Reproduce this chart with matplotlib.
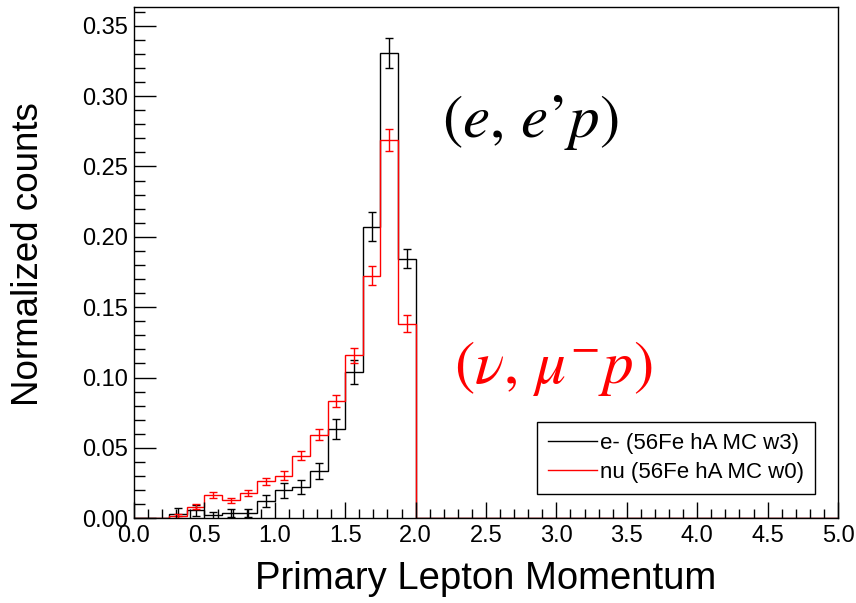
import numpy as np
import matplotlib
matplotlib.use("Agg")
import matplotlib.pyplot as plt
from matplotlib.lines import Line2D
from matplotlib.ticker import MultipleLocator, FormatStrFormatter

plt.rcParams['font.family'] = ['Liberation Sans', 'DejaVu Sans']
plt.rcParams['mathtext.fontset'] = 'stix'

# Histogram binning (GeV), 40 bins on [0, 5]
n_bins = 40
p_min, p_max = 0.0, 5.0
first_bin = 2          # first filled bin starts at 0.25

# e- (56Fe hA MC w3)
e_counts = [0.0033, 0.0057, 0.0022, 0.0038, 0.0038, 0.0123, 0.0199,
            0.0223, 0.0336, 0.0637, 0.1039, 0.2073, 0.3306, 0.1843]
e_errors = [0.0038, 0.0041, 0.0024, 0.0028, 0.0028, 0.0041, 0.0053,
            0.0052, 0.0057, 0.0071, 0.0085, 0.0103, 0.0104, 0.0067]

# nu (56Fe hA MC w0)
nu_counts = [0.0015, 0.0082, 0.0165, 0.0128, 0.0180, 0.0263, 0.0302,
             0.0445, 0.0594, 0.0835, 0.1157, 0.1725, 0.2690, 0.1384]
nu_errors = [0.0012, 0.0019, 0.0022, 0.0018, 0.0021, 0.0024, 0.0031,
             0.0033, 0.0038, 0.0044, 0.0056, 0.0067, 0.0079, 0.0058]

labels = ["e- (56Fe hA MC w3)", "nu (56Fe hA MC w0)"]


def fill(counts):
    h = np.zeros(n_bins)
    h[first_bin:first_bin + len(counts)] = counts
    return h


edges = np.linspace(p_min, p_max, n_bins + 1)
centers = 0.5 * (edges[:-1] + edges[1:])
filled = centers[first_bin:first_bin + len(e_counts)]

fig = plt.figure(figsize=(8.56, 6.03), dpi=100)
ax = fig.add_axes([134 / 856, 1 - 518.3 / 603, 704 / 856, 511.6 / 603])

for counts, errs, col in [(e_counts, e_errors, 'black'),
                          (nu_counts, nu_errors, 'red')]:
    ax.stairs(fill(counts), edges, color=col, lw=1.0, baseline=0)
    ax.errorbar(filled, counts, yerr=errs, fmt='none', ecolor=col,
                elinewidth=1.0, capsize=2.6, capthick=1.0)

ax.set_xlim(p_min, p_max)
ax.set_ylim(0, 0.3635)

ax.xaxis.set_major_locator(MultipleLocator(0.5))
ax.xaxis.set_minor_locator(MultipleLocator(0.1))
ax.yaxis.set_major_locator(MultipleLocator(0.05))
ax.yaxis.set_minor_locator(MultipleLocator(0.01))
ax.xaxis.set_major_formatter(FormatStrFormatter('%.1f'))
ax.yaxis.set_major_formatter(FormatStrFormatter('%.2f'))

ax.tick_params(axis='both', which='both', direction='in', width=1.0,
               top=False, right=False, labelsize=17)
ax.tick_params(axis='x', which='major', length=11.5, pad=5)
ax.tick_params(axis='x', which='minor', length=6.5)
ax.tick_params(axis='y', which='major', length=16, pad=4)
ax.tick_params(axis='y', which='minor', length=8)
for s in ax.spines.values():
    s.set_linewidth(1.0)

fig.text(486 / 856, 1 - 579 / 603, "Primary Lepton Momentum", fontsize=27.5,
         ha='center', va='center')
fig.text(29 / 856, 1 - 254 / 603, "Normalized counts", fontsize=26.5,
         rotation=90, ha='center', va='center')

# reaction channel annotations
fig.text(530 / 856, 1 - 122 / 603, r"$(e,\,e’p)$", fontsize=44,
         color='black', ha='center', va='center')
fig.text(553 / 856, 1 - 369 / 603, r"$(\nu,\,\mu^{-}p)$", fontsize=44,
         color='red', ha='center', va='center')

handles = [Line2D([0], [0], color='black', lw=1.0),
           Line2D([0], [0], color='red', lw=1.0)]
leg = ax.legend(handles, labels, loc='upper left',
                bbox_to_anchor=(537 / 856, 1 - 422 / 603),
                bbox_transform=fig.transFigure, fontsize=16,
                frameon=True, fancybox=False, framealpha=1,
                edgecolor='black', borderpad=0.5, handlelength=2.2,
                handletextpad=0.15, labelspacing=0.35, borderaxespad=0)
leg.get_frame().set_linewidth(1.0)

fig.savefig("out.png", dpi=100)
